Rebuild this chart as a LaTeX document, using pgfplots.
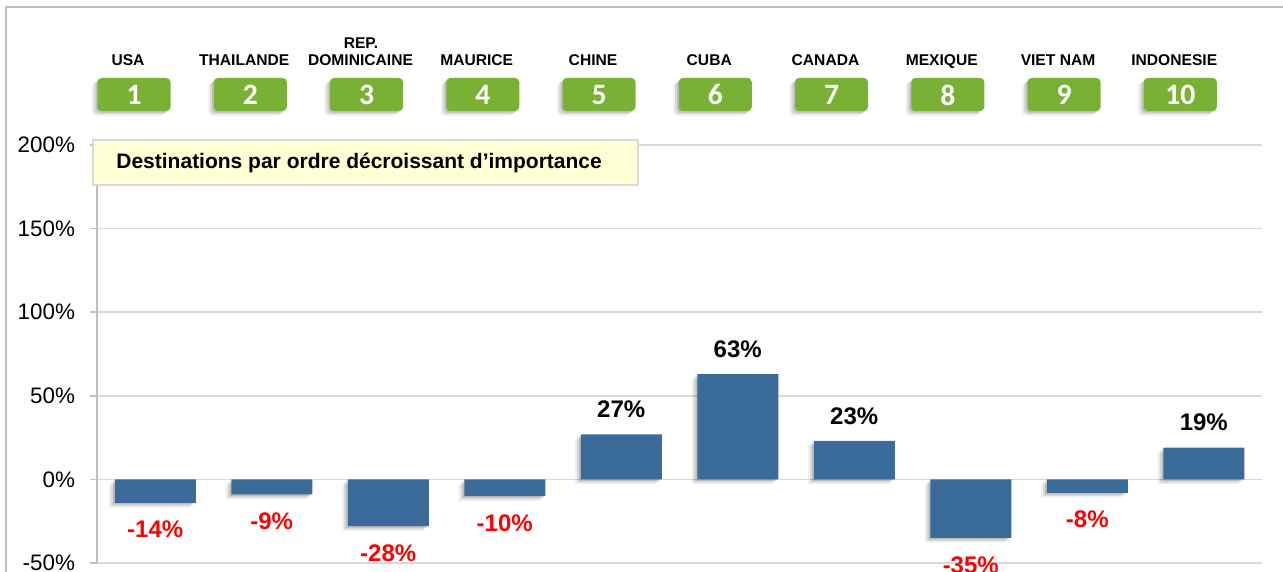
\documentclass[border=0pt]{standalone}
\usepackage{fontspec}
\setmainfont{Liberation Sans}
\newfontfamily\calibri{Carlito}
\usepackage{pgfplots}
\pgfplotsset{compat=1.18}
\usetikzlibrary{shadows}
\definecolor{barblue}{HTML}{3A6B99}
\definecolor{boxgreen}{HTML}{78B134}
\definecolor{gridgray}{HTML}{D9D9D9}
\definecolor{framegray}{HTML}{BFBFBF}
\definecolor{noteyellow}{HTML}{FFFFD4}
\definecolor{labelred}{HTML}{FF0000}
\tikzset{softshadow/.style={
  drop shadow={shadow xshift=-0.8pt, shadow yshift=-0.8pt, opacity=0.12, fill=black},
  drop shadow={shadow xshift=-1.8pt, shadow yshift=-1.6pt, opacity=0.10, fill=black},
  drop shadow={shadow xshift=-2.8pt, shadow yshift=-2.4pt, opacity=0.06, fill=black}}}
\begin{document}
\begin{tikzpicture}
\useasboundingbox (0,0) rectangle (641.5pt,286pt);
\begin{axis}[
  at={(48.5pt,4.5pt)}, anchor=south west,
  scale only axis, width=582.5pt, height=209pt,
  xmin=0.5, xmax=10.5, ymin=-50, ymax=200,
  ytick={-50,0,50,100,150,200},
  xtick=\empty,
  axis x line=none,
  axis y line*=left,
  y axis line style={draw=framegray, line width=0.75pt, -},
  ymajorgrids, grid style={draw=gridgray, line width=0.75pt},
  tick align=outside, major tick length=3.5pt,
  ytick style={draw=framegray, line width=0.75pt},
  yticklabel={\pgfmathprintnumber{\tick}\%},
  /pgf/number format/assume math mode=true,
  yticklabel style={font=\fontsize{11.2}{13}\selectfont, xshift=-4pt},
  ybar, bar width=40.5pt,
  clip=false,
]
\addplot[ybar, bar shift=0pt, fill=barblue, draw=none, softshadow,
  point meta=explicit symbolic, nodes near coords, nodes near coords align={above},
  nodes near coords style={font=\fontsize{12}{14}\selectfont\bfseries, text=black, inner sep=0pt, yshift=8pt}]
  coordinates {(5,27) [27\%] (6,63) [63\%] (7,23) [23\%] (10,19) [19\%]};
\addplot[ybar, bar shift=0pt, fill=barblue, draw=none, softshadow,
  point meta=explicit symbolic, nodes near coords, nodes near coords align={below},
  nodes near coords style={font=\fontsize{12}{14}\selectfont\bfseries, text=labelred, inner sep=0pt, yshift=-9pt}]
  coordinates {(1,-14) [-14\%] (2,-9) [-9\%] (3,-28) [-28\%] (4,-10) [-10\%] (8,-35) [-35\%] (9,-8) [-8\%]};
\end{axis}
\begin{scope}[x=0.5pt, y=-0.5pt, shift={(0pt,286pt)}]
  \draw[framegray, line width=0.75pt] (6,600) -- (6,7) -- (1300,7);
  \draw[draw=gridgray, fill=noteyellow, line width=0.75pt] (93,140) rectangle (638,185);
  \node[anchor=west, font=\fontsize{10.5}{12}\selectfont\bfseries, inner sep=0pt] at (116,162.5) {Destinations par ordre décroissant d’importance};
  \foreach \i/\name in {1/USA,2/THAILANDE,3/DOMINICAINE,4/MAURICE,5/CHINE,6/CUBA,7/CANADA,8/MEXIQUE,9/VIET NAM,10/INDONESIE}{
    \pgfmathsetmacro\cx{134+(\i-1)*116.25}
    \fill[boxgreen, rounded corners=2pt, softshadow] (\cx-36.5,78) rectangle (\cx+36.5,111);
    \node[text=white, font=\calibri\fontsize{14.8}{16}\selectfont\bfseries] at (\cx,95) {\i};
    \node[anchor=base, font=\fontsize{7.8}{9}\selectfont\bfseries, inner sep=0pt] at (\cx-6,66) {\name};
  }
  \node[anchor=base, font=\fontsize{7.8}{9}\selectfont\bfseries, inner sep=0pt] at (361,48.5) {REP.};
\end{scope}
\end{tikzpicture}
\end{document}
